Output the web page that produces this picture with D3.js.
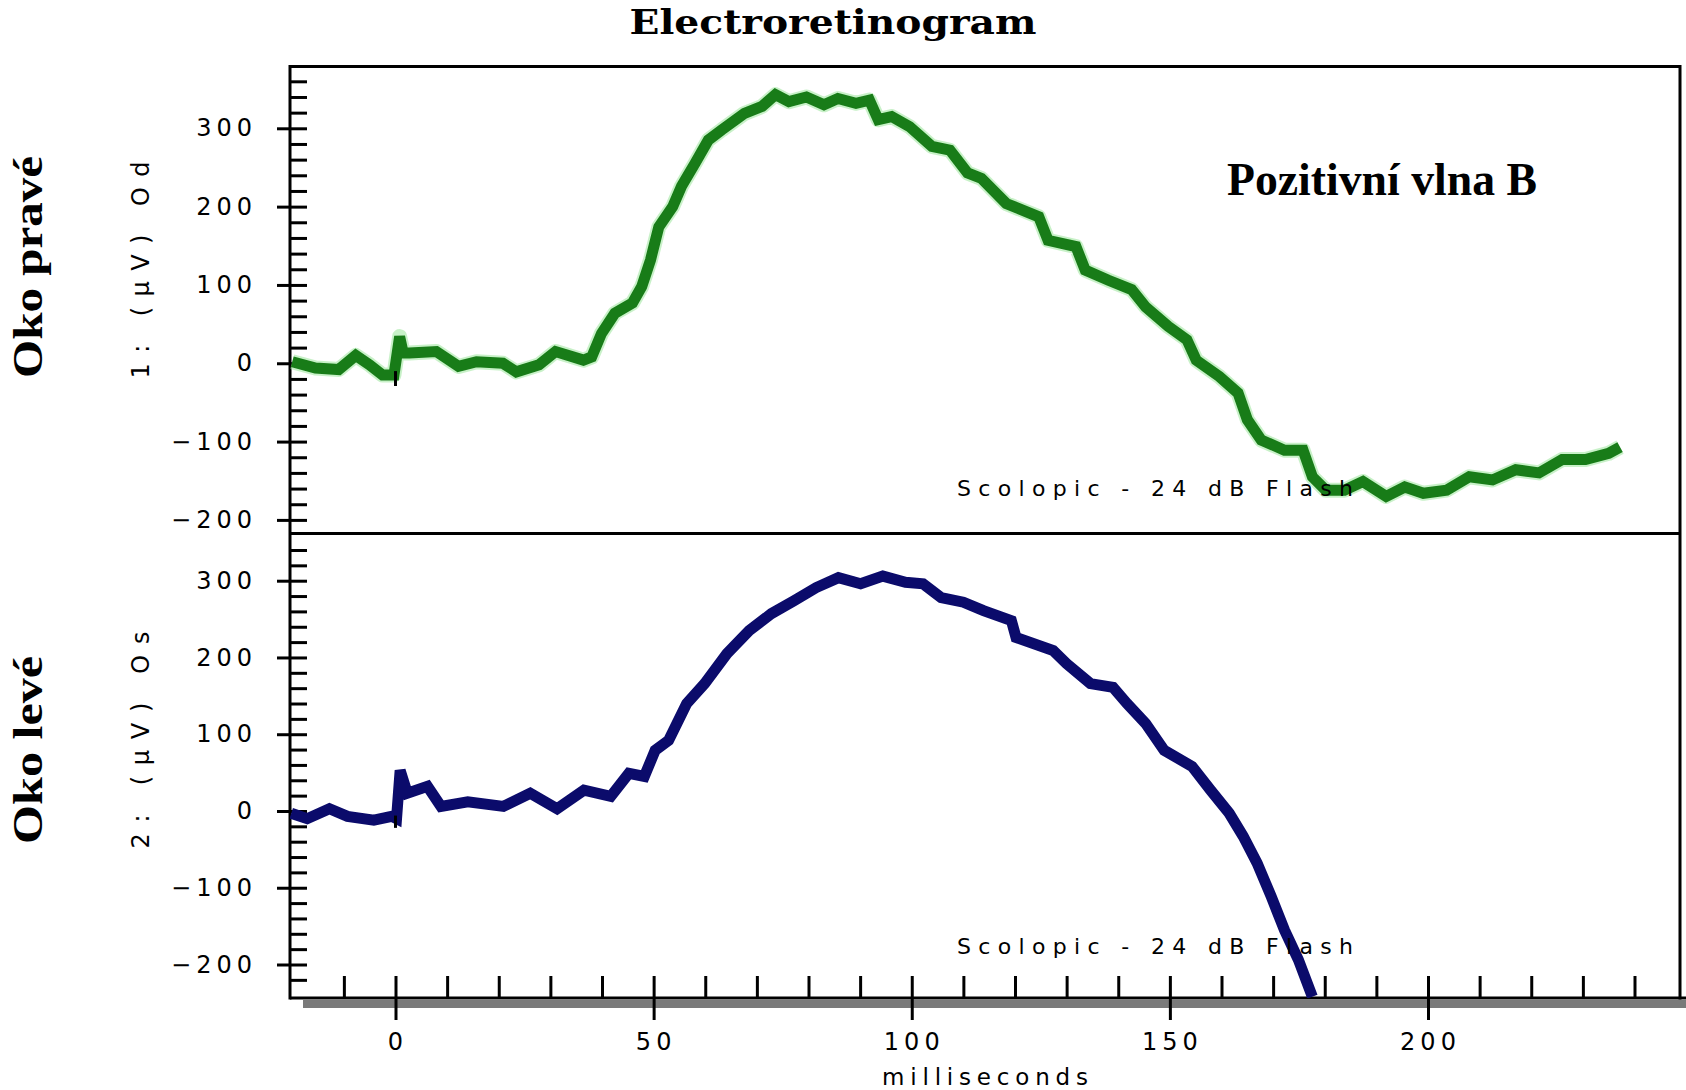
<!DOCTYPE html>
<html><head><meta charset="utf-8">
<script src="https://cdn.jsdelivr.net/npm/d3@7"></script>
<style>body{margin:0;background:#fff}</style>
</head><body><svg id="c" width="1686" height="1090"></svg>
<script>
// ---- data ----
const greenMs = [-20,-15.5,-11,-7.7,-5,-2.5,-0.3,0.8,1.5,2.7,7.9,12.2,15.7,20.8,23.4,27.8,31,36.4,38,39.9,42.5,45.9,47.7,49.4,51,53.7,55.4,58,60.6,63.2,67.6,71,73.6,76.2,79.6,83,85.7,89.2,91.8,93.5,96.1,99.6,103.9,107.4,110.8,113.5,118.3,124.6,126.4,131.8,133.6,138.1,142.6,145.3,149.7,153.3,155.1,159.6,163.2,165,167.7,172.2,175.8,177.6,180.2,183.8,187.4,191.9,195.5,199.1,203.6,208,212.5,217,221.5,226,230.5,235,237.2];
const greenUv = [2,-6,-8,10,-2,-15,-15,34,13,13,15,-4,2,0,-11,-2,15,4,8,38,64,77,98,132,174,200,226,255,285,298,319,328,343,334,340,330,338,332,336,311,315,302,277,272,243,236,204,187,157,149,119,106,94,72,47,30,4,-17,-38,-72,-98,-111,-111,-145,-162,-162,-151,-170,-158,-166,-162,-145,-149,-136,-140,-123,-123,-115,-107];
const blueMs = [-20.2,-17.1,-12.8,-9.3,-4.2,-0.7,0.2,0.9,2.3,6.2,8.8,14,20.9,26.1,31.3,36.5,41.7,45.2,48.2,50.3,52.9,56.4,59.9,64.2,68.5,72.8,77.2,81.5,85.8,90.1,94.4,98.8,102.2,105.7,110,113.9,119.3,120.2,127.4,130,134.6,139,141.7,145.3,148.9,154.3,157.9,161.5,164.2,166.9,169.6,172.2,174.9,177.6];
const blueUv = [-3,-10,3,-7,-12,-7,-10,53,23,32,6,12,6,23,3,27,19,49,45,79,92,140,166,205,235,257,274,291,304,296,306,298,296,278,272,261,248,226,209,192,166,161,140,114,79,58,27,-3,-33,-68,-111,-155,-194,-242];
const yTickValues = [-200,-100,0,100,200,300];
const xTickValues = [0,50,100,150,200];
const titleText = "Electroretinogram";
const panelLabels = ["Oko pravé","Oko levé"];
const axisLabels = ["1:  (µV)  Od","2:  (µV)  Os"];
const noteText = "Scolopic  - 24 dB Flash";
const waveText = "Pozitivní vlna B";
const xLabel = "milliseconds";

// ---- layout ----
const L = 290, R = 1680, T = 66.5, M = 533.5, B = 998;
const svg = d3.select("#c");
const x = d3.scaleLinear().domain([0,200]).range([395.5,1428]);
const yTop = d3.scaleLinear().domain([-200,300]).range([519.9,128.3]);
const yBot = d3.scaleLinear().domain([-200,300]).range([964.5,580.7]);

const defs = svg.append("defs");
defs.append("clipPath").attr("id","cTop").append("rect").attr("x",L).attr("y",T).attr("width",R-L).attr("height",M-T);
defs.append("clipPath").attr("id","cBot").append("rect").attr("x",L).attr("y",M).attr("width",R-L).attr("height",B-M);

const tickFont = "'DejaVu Sans', sans-serif";
function styleTicks(g){
  g.select(".domain").remove();
  g.selectAll(".tick line").attr("stroke","#000").attr("stroke-width",3);
  g.selectAll(".tick text").attr("font-family",tickFont).attr("font-size",24).attr("letter-spacing","5px").attr("fill","#000");
}

// gray shadow band under x axis
svg.append("rect").attr("x",303).attr("y",1000).attr("width",1686-303).attr("height",8).attr("fill","#7a7a7a");

// y axes top
svg.append("g").attr("transform",`translate(${L},0)`).call(d3.axisLeft(yTop).tickValues(d3.range(-200,361,20)).tickSize(-17).tickFormat("")).call(styleTicks);
svg.append("g").attr("transform",`translate(${L},0)`).call(d3.axisLeft(yTop).tickValues(yTickValues).tickSize(13).tickPadding(20)).call(styleTicks);
// y axes bottom
svg.append("g").attr("transform",`translate(${L},0)`).call(d3.axisLeft(yBot).tickValues(d3.range(-220,341,20)).tickSize(-17).tickFormat("")).call(styleTicks);
svg.append("g").attr("transform",`translate(${L},0)`).call(d3.axisLeft(yBot).tickValues(yTickValues).tickSize(13).tickPadding(20)).call(styleTicks);
// x axis
svg.append("g").attr("transform",`translate(0,${B})`).call(d3.axisBottom(x).tickValues(d3.range(-10,241,10)).tickSize(-22).tickFormat("")).call(styleTicks);
const xg = svg.append("g").attr("transform",`translate(0,${B})`).call(d3.axisBottom(x).tickValues(xTickValues).tickSize(22).tickPadding(13)).call(styleTicks);
xg.selectAll(".tick text").attr("dx","2px");

// frame
const fr = svg.append("g").attr("stroke","#000").attr("stroke-width",3).attr("fill","none");
fr.append("line").attr("x1",L).attr("x2",R).attr("y1",T).attr("y2",T);
fr.append("line").attr("x1",L).attr("x2",R).attr("y1",M).attr("y2",M);
fr.append("line").attr("x1",L).attr("x2",1686).attr("y1",B).attr("y2",B);
fr.append("line").attr("x1",L).attr("x2",L).attr("y1",T-1.5).attr("y2",B+1.5);
fr.append("line").attr("x1",R).attr("x2",R).attr("y1",T-1.5).attr("y2",B+1.5);

// curves
const greenData = greenMs.map((m,i)=>[m,greenUv[i]]);
const blueData = blueMs.map((m,i)=>[m,blueUv[i]]);
const lineTop = d3.line().x(d=>x(d[0])).y(d=>yTop(d[1]));
const lineBot = d3.line().x(d=>x(d[0])).y(d=>yBot(d[1]));
const gT = svg.append("g").attr("clip-path","url(#cTop)");
gT.append("path").attr("d",lineTop(greenData)).attr("fill","none").attr("stroke","#9be59b").attr("stroke-width",15).attr("stroke-opacity",0.55).attr("stroke-linejoin","round");
gT.append("path").attr("d",lineTop(greenData)).attr("fill","none").attr("stroke","#187c18").attr("stroke-width",11).attr("stroke-linejoin","miter").attr("stroke-miterlimit",2);
gT.append("line").attr("x1",x(0)).attr("x2",x(0)).attr("y1",yTop(-10)).attr("y2",yTop(-29)).attr("stroke","#000").attr("stroke-width",3);
const gB = svg.append("g").attr("clip-path","url(#cBot)");
gB.append("path").attr("d",lineBot(blueData)).attr("fill","none").attr("stroke","#0b0b6b").attr("stroke-width",11).attr("stroke-linejoin","miter").attr("stroke-miterlimit",2);
gB.append("line").attr("x1",x(0)).attr("x2",x(0)).attr("y1",yBot(-6)).attr("y2",yBot(-22)).attr("stroke","#000").attr("stroke-width",3);

// texts
svg.append("text").attr("x",833).attr("y",34).attr("text-anchor","middle")
  .attr("font-family","'DejaVu Serif', serif").attr("font-weight","bold").attr("font-size",33)
  .attr("textLength",407).attr("lengthAdjust","spacingAndGlyphs").text(titleText);
const plY = [267,750], plLen = [222,188];
panelLabels.forEach((t,i)=>{
  svg.append("text").attr("transform",`translate(42,${plY[i]}) rotate(-90)`).attr("text-anchor","middle")
    .attr("font-family","'Liberation Serif', serif").attr("font-weight","bold").attr("font-size",42)
    .attr("textLength",plLen[i]).attr("lengthAdjust","spacingAndGlyphs").text(t);
});
const alY = [270,740];
axisLabels.forEach((t,i)=>{
  svg.append("text").attr("transform",`translate(149,${alY[i]}) rotate(-90)`).attr("text-anchor","middle")
    .attr("font-family",tickFont).attr("font-size",24)
    .attr("textLength",217).attr("lengthAdjust","spacing").text(t);
});
[496,954].forEach(yy=>{
  svg.append("text").attr("x",957).attr("y",yy).attr("font-family",tickFont).attr("font-size",22)
    .attr("textLength",396).attr("lengthAdjust","spacing").text(noteText);
});
svg.append("text").attr("x",1227).attr("y",195).attr("font-family","'Liberation Serif', serif").attr("font-weight","bold")
  .attr("font-size",47).attr("textLength",310).attr("lengthAdjust","spacingAndGlyphs").text(waveText);
svg.append("text").attr("x",985).attr("y",1085).attr("text-anchor","middle").attr("font-family",tickFont).attr("font-size",23)
  .attr("textLength",206).attr("lengthAdjust","spacing").text(xLabel);
</script></body></html>
